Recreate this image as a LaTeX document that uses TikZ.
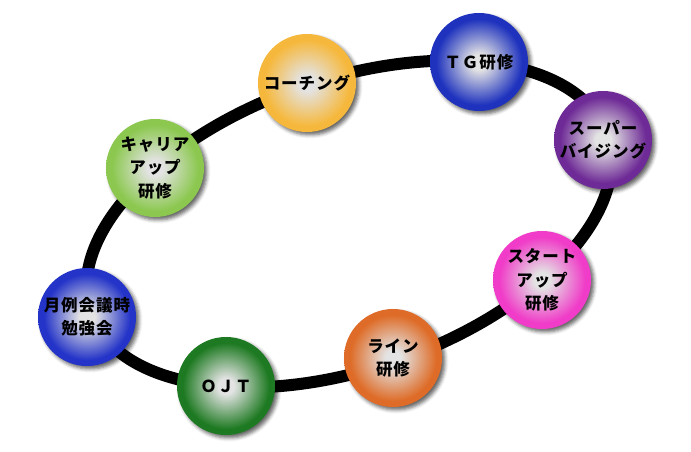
\documentclass[tikz,border=0pt]{standalone}
\usepackage{fontspec}
\newfontfamily\jpfont[LetterSpace=6]{Noto Sans CJK JP}
\usetikzlibrary{shadows.blur}
\definecolor{coachorange}{RGB}{246,184,60}
\definecolor{careergreen}{RGB}{140,200,80}
\definecolor{tgblue}{RGB}{30,50,190}
\definecolor{superpurple}{RGB}{110,42,150}
\definecolor{startpink}{RGB}{240,60,200}
\definecolor{lineorange}{RGB}{222,108,40}
\definecolor{ojtgreen}{RGB}{30,122,34}
\definecolor{meetblue}{RGB}{36,52,200}
\colorlet{ballc}{gray}
\pgfdeclareradialshading[ballc]{glow}{\pgfpoint{0bp}{0bp}}{color(0bp)=(gray!22); color(4bp)=(gray!22); color(22bp)=(ballc); color(25bp)=(ballc); color(50bp)=(ballc)}
\tikzset{
  ball/.style={circle, minimum size=98pt, inner sep=0pt, align=center,
    /utils/exec={\colorlet{ballc}{#1}}, shading=glow,
    blur shadow={shadow xshift=3pt, shadow yshift=-3pt, shadow blur radius=3.5pt, shadow opacity=60},
    font=\jpfont\bfseries\fontsize{16.5}{23.5}\selectfont},
  ring/.style={line width=12pt, black}
}
\begin{document}
\begin{tikzpicture}[x=1pt,y=1pt]
\useasboundingbox (0,0) rectangle (691,451);
\draw[ring,rotate around={19:(349,227)}] (349,227) ellipse [x radius=273, y radius=145];
\node[ball=coachorange] (coach) at (307,368) {コーチング};
\node[ball=careergreen] (career) at (155,283) {キャリア\\アップ\\研修};
\node[ball=tgblue] (tg) at (479,389) {ＴＧ研修};
\node[ball=superpurple] (super) at (603,311) {スーパー\\バイジング};
\node[ball=startpink] (startup) at (542,171) {スタート\\アップ\\研修};
\node[ball=lineorange] (line) at (393,93) {ライン\\研修};
\node[ball=ojtgreen] (ojt) at (226,65) {ＯＪＴ};
\node[ball=meetblue] (meeting) at (87,134) {月例会議時\\勉強会};
\end{tikzpicture}
\end{document}
